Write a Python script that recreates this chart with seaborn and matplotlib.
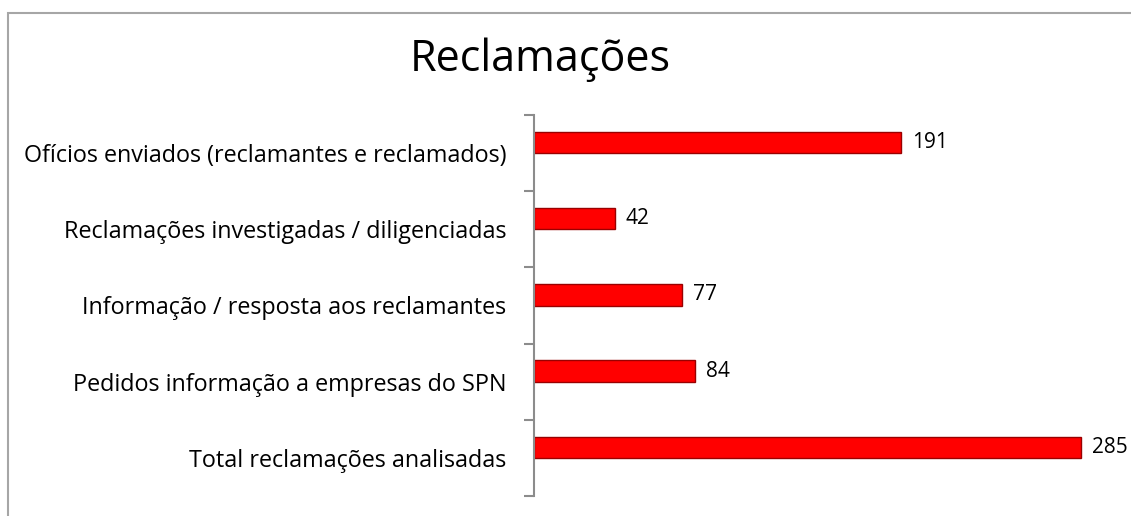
import matplotlib
matplotlib.use("Agg")
import matplotlib.pyplot as plt
import seaborn as sns
import pandas as pd
from matplotlib.patches import Rectangle

categories = [
    "Ofícios enviados (reclamantes e reclamados)",
    "Reclamações investigadas / diligenciadas",
    "Informação / resposta aos reclamantes",
    "Pedidos informação a empresas do SPN",
    "Total reclamações analisadas",
]
values = [191, 42, 77, 84, 285]

df = pd.DataFrame({"categoria": categories, "valor": values})

sns.set_theme(style="white")
plt.rcParams["font.family"] = ["Open Sans", "DejaVu Sans"]
plt.rcParams["text.color"] = "black"

fig = plt.figure(figsize=(11.31, 5.16), dpi=100)
ax = fig.add_axes([534 / 1131, 1 - 496 / 516, (1110 - 534) / 1131, (496 - 115) / 516])

sns.barplot(data=df, x="valor", y="categoria", color="#ff0000", saturation=1,
            width=0.28, edgecolor="#9a0000", linewidth=1.0, ax=ax)

# bars sit a bit above the category centre, like the original 3D look
for p in ax.patches:
    p.set_y(p.get_y() - 0.14)

ax.bar_label(ax.containers[0], padding=8, fontsize=15, color="black")

ax.set_xlim(0, 300)
ax.set_ylim(4.5, -0.5)
ax.set_xlabel("")
ax.set_ylabel("")
ax.set_xticks([])
ax.tick_params(axis="y", which="major", left=False, length=0, labelsize=16.8, pad=20,
               labelcolor="black")
ax.set_yticks([i - 0.5 for i in range(len(categories) + 1)], minor=True)
ax.tick_params(axis="y", which="minor", left=True, length=7, width=1.5, color="#8c8c8c")
for s in ["top", "right", "bottom"]:
    ax.spines[s].set_visible(False)
ax.spines["left"].set_color("#8c8c8c")
ax.spines["left"].set_linewidth(1.5)

fig.text(540 / 1131, 1 - 60 / 516, "Reclamações", ha="center", va="center",
         fontsize=31, color="black")

fig.patches.append(Rectangle((8 / 1131, -0.1), 1.2, (516 - 13) / 516 + 0.1,
                             transform=fig.transFigure, fill=False,
                             edgecolor="#a6a6a6", linewidth=1.5))

fig.savefig("out.png", dpi=100)
